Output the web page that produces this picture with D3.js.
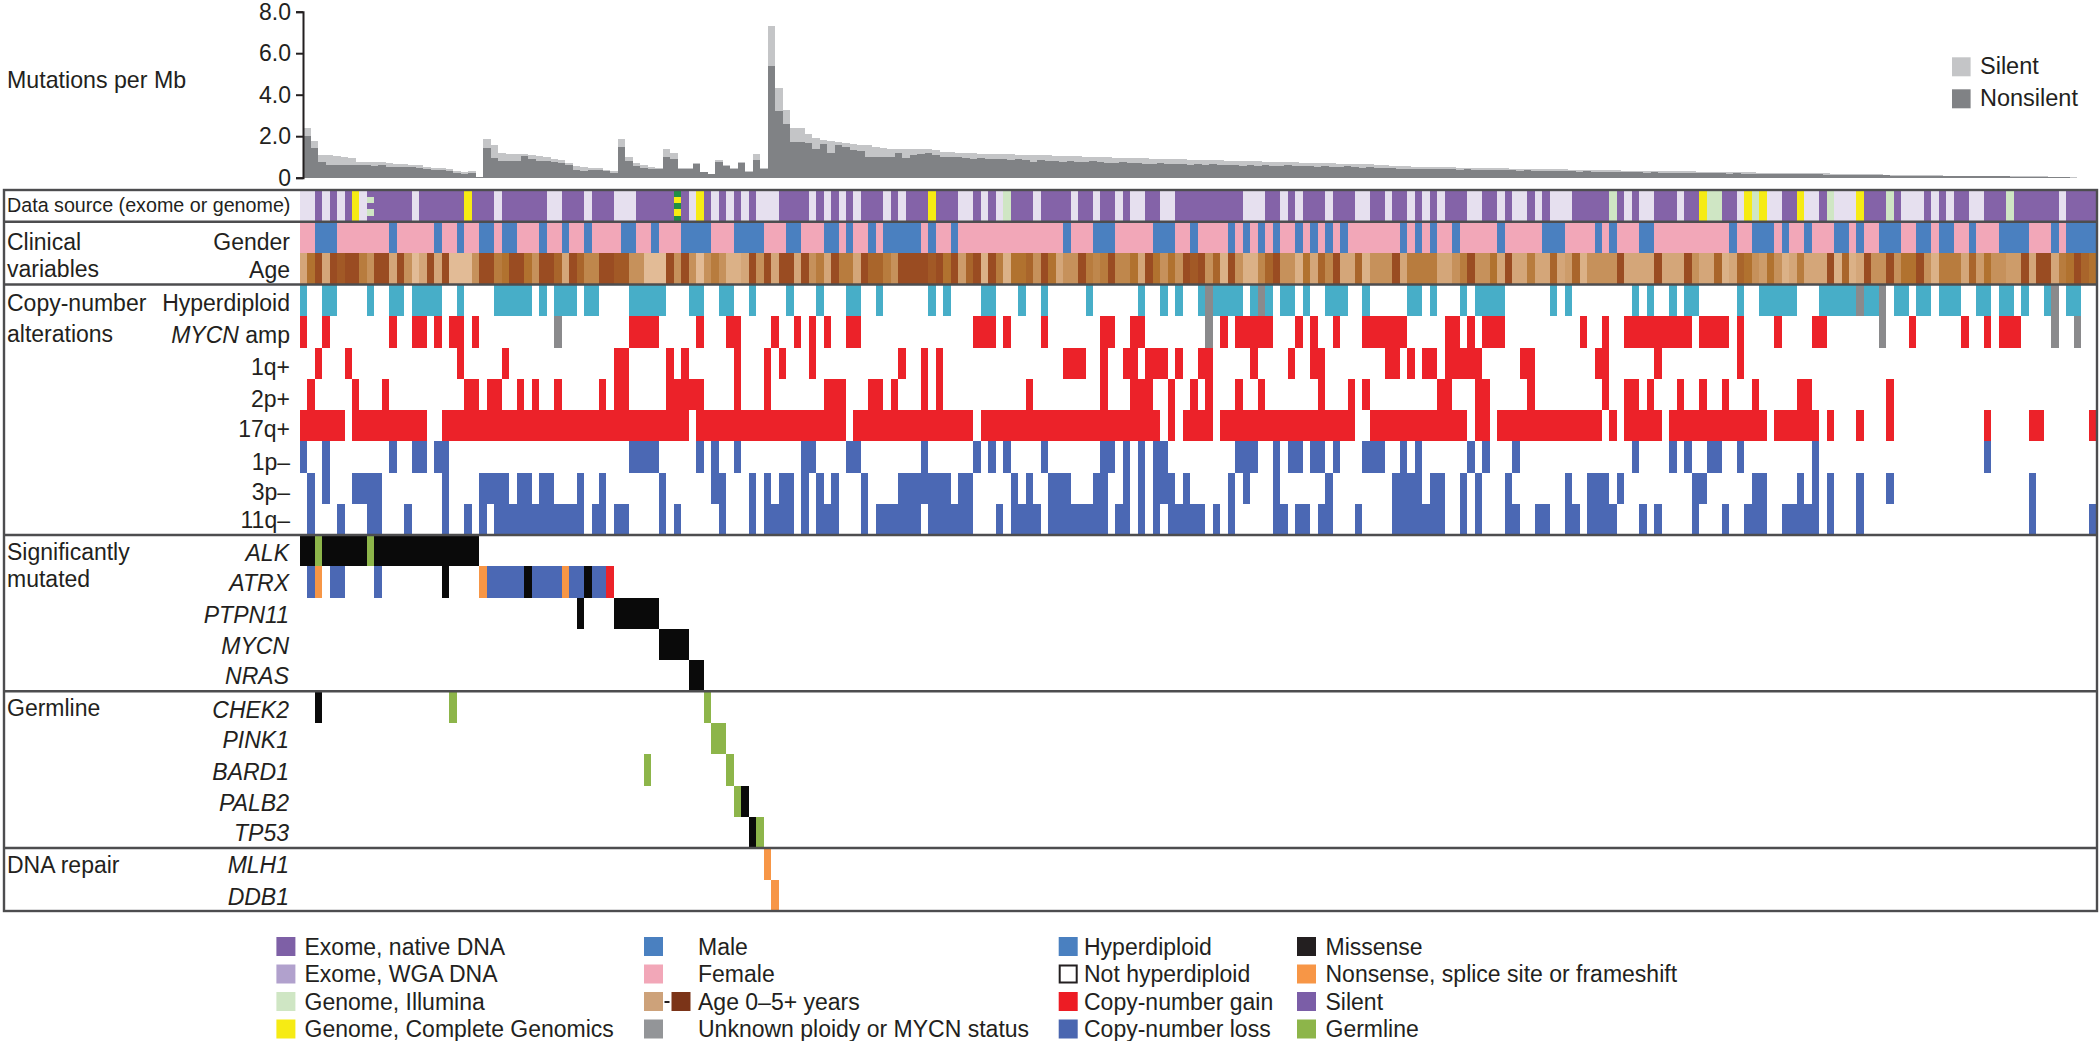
<!DOCTYPE html>
<html><head><meta charset="utf-8">
<script src="https://cdnjs.cloudflare.com/ajax/libs/d3/7.8.5/d3.min.js"></script>
<style>html,body{margin:0;padding:0;background:#fff}svg{display:block}text{font-family:"Liberation Sans",Arial,sans-serif;fill:#231f20}</style>
</head><body><svg id="c" width="2100" height="1041"></svg>
<script>
const tickValues=[0,2,4,6,8];
const totalRate=[2.4,1.78,1.09,1.07,1.05,1.0,.95,.77,.75,.75,.75,.73,.65,.65,.63,.6,.52,.48,.47,.42,.3,.27,.3,.03,
1.85,1.6,1.17,1.15,1.12,1.12,1.1,1.05,1.0,.9,.85,.7,.58,.5,.48,.45,.38,.3,
1.85,1.0,.7,.62,.5,.48,1.38,1.2,.45,.45,.7,.29,.18,.85,.6,.45,.77,.3,1.14,.45,
7.3,4.3,3.26,2.38,2.38,2.09,1.93,1.82,1.78,1.73,1.65,1.62,1.6,1.56,1.46,1.41,1.4,1.38,1.38,1.37,1.36,1.36,1.33,1.24,
1.22,1.2,1.19,1.17,1.16,1.15,1.14,1.13,1.12,1.11,1.1,1.09,1.08,1.07,
1.06,1.05,1.04,1.03,1.02,1.0,.99,.98,.97,.96,.95,.94,.93,.92,.91,.9,.89,.88,.87,.86,
.85,.84,.83,.82,.82,.81,.8,.79,.78,.77,.76,.75,.74,.73,.72,.71,.7,.69,.68,.67,.66,.65,.64,.62,.6,.58,.56,
.54,.53,.52,.52,.51,.5,.5,.49,.49,.48,.47,.47,.46,.45,.44,.44,.43,.42,.42,.41,.4,.4,.39,.38,.37,.36,
.36,.35,.35,.34,.34,.33,.33,.32,.32,.31,.31,.3,.3,.29,.29,.28,.28,.27,
.27,.26,.26,.25,.25,.24,.24,.23,.23,.22,.22,.21,.21,.2,.2,.19,.18,.17,.17,.16,.15,.14,.13,
.12,.12,.11,.11,.11,.1,.1,.1,.09,.09,.09,.08,.08,.08,.08,.07,.07,.07,.06,.05,.05,.04,.03,0,0,0];
const nonsilentRate=[2.0,1.41,.77,.61,.6,.62,.6,.62,.6,.58,.6,.52,.5,.5,.5,.46,.4,.38,.36,.33,.24,.2,.24,.02,
1.41,.93,.8,.8,.82,1.04,.88,.8,.8,.75,.72,.6,.38,.3,.35,.35,.3,.25,
1.5,.8,.55,.45,.42,.4,1.0,.88,.4,.4,.65,.27,.16,.77,.55,.4,.7,.27,.85,.42,
5.4,3.2,2.57,1.73,1.73,1.65,1.37,1.62,1.17,1.57,1.49,1.33,1.3,1.0,.98,.98,1.0,1.17,.93,1.09,1.14,1.17,1.09,1.0,
.98,1.0,.93,.9,.96,.92,.9,.88,.85,.88,.86,.78,.84,.82,
.8,.78,.8,.76,.74,.82,.76,.7,.72,.74,.71,.72,.68,.66,.7,.68,.64,.66,.63,.66,
.62,.64,.6,.62,.61,.58,.6,.57,.6,.58,.56,.6,.54,.57,.55,.52,.55,.53,.51,.54,.5,.48,.5,.47,.46,.46,.44,
.43,.42,.44,.42,.4,.42,.4,.38,.4,.38,.36,.38,.36,.38,.35,.34,.35,.33,.34,.32,.31,.32,.3,.29,.3,.28,
.28,.29,.27,.27,.26,.27,.25,.26,.24,.25,.23,.24,.24,.22,.23,.21,.22,.2,
.21,.2,.2,.19,.2,.18,.19,.17,.18,.17,.16,.17,.15,.15,.14,.14,.13,.13,.12,.11,.11,.1,.09,
.09,.09,.08,.08,.08,.07,.07,.07,.07,.06,.07,.06,.06,.06,.05,.05,.05,.04,.04,.02,.02,.01,0,0,0,0];
const agePerSample=[1,3.5,5,1,5,4.5,5,5,3,2,5,5,1,5,2,0,1,5,1,5,0,0,0,2,5,5,3,3.5,5,5,3.5,2,5,5,4,1,5,4,2.5,2.5,5,5,4.5,4.5,2,2,0,0,0,5,2,5,2,0,2,3,2,.5,.5,1,5,2,5,1,5,5,1,5,2,3,1,5,3,3,1,5,4,4,3,2,
5,5,5,5,4.5,5,3.5,5,1.5,4,5,.5,5,3,.5,3.5,3.5,4,2,5,3.5,1,2,2,5,3,2.5,3,5,2.5,2.5,3.5,1,5,3.5,2,3.5,2,5,4.5,5,2,4,.5,5,2,.5,.5,2.5,4,5,2,2,.5,3.5,1,4,2.5,5,1,1,4,.5,2,2,2,5,1,3,3,3,3,1,1,2,3,5,2,2,3.5,
1,5,1,1,3,1,1,4,1,1.5,4,.5,2,2,2,2,5,1,1,1,1,5,1,1,1,5,2,1,1,4,.5,1,4,3.5,2,1.5,3.5,2,.5,1,3,1,1,1,5,.5,4,.5,1,5,2,2,5,2,3.5,3.5,5,2,.5,3,3,3,1,4,1.5,3.5,2,2,1.5,1.5,5,1,5,5,1,3,3.5,5,4,3.5];

// sample spans [first, afterLast]
const wgaSpans=[[0,2],[3,4],[5,6],[8,9],[15,16],[26,27],[33,35],[38,39],[42,45],[52,53],[55,56],[57,58],[59,60],[61,64],[68,69],[70,71],[72,73],[74,75],[78,79],[80,81],[88,90],[91,92],[93,94],[98,99],[103,104],[106,107],[109,110],[111,113],[115,117],[126,129],[131,132],[133,134],[137,138],[141,143],[145,146],[148,149],[150,151],[152,153],[156,158],[160,161],[162,164],[165,166],[167,170],[177,178],[179,181],[184,185],[192,193],[196,198],[201,203],[205,208],[214,217],[218,219],[220,221],[223,225],[235,236]];
const illuminaSpans=[[94,95],[175,176],[188,190],[194,195],[204,205],[212,213],[228,229]];
const completeSpans=[[7,8],[22,23],[53,54],[84,85],[187,188],[193,194],[195,196],[200,201],[208,209]];
const mixedSourceSample1=["#8463a8","#cfe6c4","#8463a8","#cfe6c4","#8463a8"];
const mixedSourceSample2=["#1f8f45","#f6eb14","#1f8f45","#f6eb14","#1f8f45"];
const maleSpans=[[2,5],[12,13],[18,19],[21,22],[24,26],[27,29],[32,33],[35,36],[38,39],[43,45],[47,48],[51,55],[58,62],[65,67],[70,72],[73,74],[76,77],[78,83],[84,85],[87,88],[102,103],[106,109],[114,117],[119,120],[124,125],[126,127],[128,129],[130,131],[133,134],[135,136],[137,138],[139,140],[147,148],[149,150],[151,152],[154,155],[160,161],[166,169],[173,174],[175,176],[179,181],[191,192],[194,197],[198,199],[201,202],[205,207],[208,209],[211,214],[216,218],[219,221],[223,224],[227,231],[234,235],[236,240]];
const hyperSpans=[[0,1],[3,5],[9,10],[12,14],[15,19],[21,22],[26,31],[32,33],[34,37],[38,40],[44,49],[52,54],[56,58],[60,61],[65,66],[69,70],[73,75],[77,78],[84,85],[86,87],[91,93],[96,97],[99,100],[105,106],[112,113],[115,116],[117,118],[120,121],[122,126],[127,128],[129,130],[131,133],[134,135],[137,140],[142,143],[148,150],[151,152],[155,156],[157,161],[167,168],[169,170],[178,179],[180,181],[183,184],[185,187],[192,193],[195,200],[203,208],[209,211],[213,215],[216,218],[219,222],[224,226],[227,229],[230,231],[233,234],[236,238]];
const ploidyUnknownSpans=[[121,122],[128,129],[208,209],[211,212],[234,235]];
const mycnAmpSpans=[[0,1],[3,4],[12,13],[15,17],[18,19],[20,22],[23,24],[44,48],[53,54],[57,59],[63,64],[66,67],[68,69],[70,71],[73,75],[90,93],[94,95],[99,100],[107,109],[111,113],[123,124],[125,130],[133,134],[135,136],[138,139],[142,148],[153,155],[156,157],[158,161],[171,172],[174,175],[177,186],[187,191],[192,193],[197,198],[202,204],[215,216],[222,223],[225,226],[227,230]];
const mycnUnknownSpans=[[34,35],[121,122],[211,212],[234,235],[237,238]];
const gain1qSpans=[[2,3],[6,7],[21,22],[27,28],[42,44],[49,50],[51,52],[58,59],[62,63],[64,65],[68,69],[80,81],[83,84],[85,86],[102,105],[107,108],[110,112],[113,116],[117,118],[120,122],[127,128],[132,133],[135,137],[145,147],[148,149],[150,152],[153,158],[163,165],[173,175],[181,182],[192,193]];
const gain2pSpans=[[1,2],[7,8],[11,12],[22,24],[25,27],[29,30],[31,32],[34,35],[40,41],[42,44],[49,54],[58,59],[62,63],[70,73],[76,78],[79,80],[83,84],[85,86],[97,98],[107,108],[111,114],[116,117],[119,120],[121,122],[125,126],[128,129],[136,137],[140,141],[142,143],[152,154],[157,159],[164,165],[174,175],[177,179],[180,181],[184,185],[187,188],[190,191],[194,195],[200,202],[212,213]];
const gain17qSpans=[[0,6],[7,17],[19,52],[53,73],[74,90],[91,115],[116,117],[118,122],[123,141],[143,156],[157,159],[160,174],[175,176],[177,182],[183,196],[197,203],[204,205],[208,209],[212,213],[225,226],[231,233],[239,240]];
const loss1pSpans=[[0,1],[3,4],[12,13],[15,17],[18,20],[44,48],[53,54],[55,56],[58,59],[67,69],[73,75],[83,84],[90,91],[92,93],[94,95],[99,100],[107,109],[110,111],[112,113],[114,116],[125,128],[130,131],[132,134],[135,137],[138,139],[142,145],[147,148],[149,150],[156,157],[158,159],[162,163],[178,179],[183,184],[185,186],[188,190],[192,193],[202,203],[225,226]];
const loss3pSpans=[[1,2],[3,4],[7,11],[19,20],[24,28],[29,31],[32,34],[37,38],[40,41],[48,49],[55,57],[60,61],[62,63],[64,66],[67,68],[69,70],[71,72],[75,76],[80,87],[88,90],[95,96],[97,98],[100,103],[106,108],[110,111],[112,113],[114,117],[118,119],[124,125],[126,127],[130,131],[137,138],[146,150],[151,153],[155,156],[157,158],[161,162],[169,170],[172,175],[176,177],[186,188],[194,196],[200,201],[202,203],[204,205],[208,209],[212,213],[231,232]];
const loss11qSpans=[[1,2],[5,6],[9,11],[14,15],[19,20],[22,23],[24,25],[26,38],[39,41],[42,44],[48,49],[50,51],[56,57],[60,61],[62,66],[67,68],[69,72],[75,76],[77,83],[84,90],[93,94],[95,99],[100,108],[109,111],[112,113],[114,115],[116,121],[122,123],[124,125],[130,132],[133,135],[136,138],[141,142],[146,153],[155,156],[157,158],[161,163],[165,167],[169,171],[172,176],[179,180],[181,182],[186,187],[190,191],[193,196],[198,203],[204,205],[208,209],[231,232],[239,240]];
const geneMissense={ALK:[[0,2],[3,9],[10,24]],ATRX:[[19,20],[30,31],[38,39]],PTPN11:[[37,38],[42,48]],MYCN:[[48,52]],NRAS:[[52,54]],CHEK2:[[2,3]],PINK1:[],BARD1:[],PALB2:[[59,60]],TP53:[[60,61]],MLH1:[],DDB1:[]};
const geneGermline={ALK:[[2,3],[9,10]],ATRX:[],PTPN11:[],MYCN:[],NRAS:[],CHEK2:[[20,21],[54,55]],PINK1:[[55,57]],BARD1:[[46,47],[57,58]],PALB2:[[58,59]],TP53:[[61,62]],MLH1:[],DDB1:[]};
const geneNonsense={ATRX:[[2,3],[24,25],[35,36]],MLH1:[[62,63]],DDB1:[[63,64]]};
const geneSilent={ATRX:[[1,2],[4,6],[10,11],[25,30],[31,35],[36,38],[39,41]]};
const geneRed={ATRX:[[41,42]]};
const clinicalGenes=["ALK","ATRX","PTPN11","MYCN","NRAS","CHEK2","PINK1","BARD1","PALB2","TP53","MLH1","DDB1"];
const legendCol1=[["Exome, native DNA","#7e60a6"],["Exome, WGA DNA","#b1a1cd"],["Genome, Illumina","#cfe6c4"],["Genome, Complete Genomics","#f6eb14"]];
const legendCol2=[["Male","#4a80c0"],["Female","#f2a7b8"],["Age 0–5+ years","#cda27a"],["Unknown ploidy or MYCN status","#939598"]];
const legendCol3=[["Hyperdiploid","#4a80c0"],["Not hyperdiploid","#fff"],["Copy-number gain","#ed1c24"],["Copy-number loss","#4a66b0"]];
const legendCol4=[["Missense","#231f20"],["Nonsense, splice site or frameshift","#f79646"],["Silent","#7b5ea7"],["Germline","#8db54a"]];

const svg=d3.select("#c");
const N=240;
const x=d3.scaleLinear().domain([0,N]).range([299.6,2096]);
const xBar=d3.scaleLinear().domain([0,N]).range([303.5,2099.9]);
const y=d3.scaleLinear().domain([0,8]).range([177.7,11.7]);
const ageColor=d3.scaleLinear().domain([0,3.5,5]).range(["#e2bb96","#b1722f","#9a4c22"]);
const C={native:"#8463a8",wga:"#e6e0ef",ill:"#cfe6c4",comp:"#f6eb14",male:"#4a80c0",female:"#f2a7b8",hyper:"#47aec8",gain:"#ec2229",loss:"#4b68b4",unk:"#8a8a8c",mis:"#0a0a0a",non:"#f79646",ger:"#8db54a"};
const marks=svg.append("g").attr("shape-rendering","crispEdges");
function spans(data,top,bot,color){marks.append("g").attr("fill",color).selectAll("rect").data(data).join("rect")
 .attr("x",d=>x(d[0])).attr("width",d=>x(d[1])-x(d[0])).attr("y",top).attr("height",bot-top);}

// bars
const bars=svg.append("g").attr("shape-rendering","crispEdges");
bars.append("g").attr("fill","#c4c5c7").selectAll("rect").data(totalRate).join("rect")
 .attr("x",(d,i)=>xBar(i)).attr("width",xBar(1)-xBar(0)).attr("y",d=>y(d)).attr("height",d=>y(0)-y(d));
bars.append("g").attr("fill","#808285").selectAll("rect").data(nonsilentRate).join("rect")
 .attr("x",(d,i)=>xBar(i)).attr("width",xBar(1)-xBar(0)).attr("y",d=>y(d)).attr("height",d=>y(0)-y(d));
const ax=svg.append("g").attr("transform","translate(303,0)").call(d3.axisLeft(y).tickValues(tickValues).tickSize(7).tickPadding(5).tickFormat(d=>d===0?"0":d3.format(".1f")(d)));
ax.selectAll("path,line").attr("stroke","#231f20").attr("stroke-width",2);
ax.selectAll("text").style("font-size","23px").style("font-family","'Liberation Sans'");

// data source
const r=[190.7,221.7,222.7,253.3,284];
spans([[0,N]],r[0],r[1],C.native);spans(wgaSpans,r[0],r[1],C.wga);spans(illuminaSpans,r[0],r[1],C.ill);spans(completeSpans,r[0],r[1],C.comp);
[[9,mixedSourceSample1],[50,mixedSourceSample2]].forEach(([c,cols])=>cols.forEach((col,k)=>{const h=(r[1]-r[0])/5;spans([[c,c+1]],r[0]+k*h,r[0]+(k+1)*h,col);}));
spans([[0,N]],r[2],r[3],C.female);spans(maleSpans,r[2],r[3],C.male);
marks.append("g").selectAll("rect").data(agePerSample).join("rect").attr("x",(d,i)=>x(i)).attr("width",x(1)-x(0)+.3).attr("y",r[3]).attr("height",r[4]-r[3]).attr("fill",d=>ageColor(d));

// copy number rows
const rowTop=i=>285+31.25*i;
spans(hyperSpans,rowTop(0),rowTop(1),C.hyper);spans(ploidyUnknownSpans,rowTop(0),rowTop(1),C.unk);
spans(mycnAmpSpans,rowTop(1),rowTop(2),C.gain);spans(mycnUnknownSpans,rowTop(1),rowTop(2),C.unk);
spans(gain1qSpans,rowTop(2),rowTop(3),C.gain);spans(gain2pSpans,rowTop(3),rowTop(4),C.gain);spans(gain17qSpans,rowTop(4),rowTop(5),C.gain);
spans(loss1pSpans,rowTop(5),rowTop(6),C.loss);spans(loss3pSpans,rowTop(6),rowTop(7),C.loss);spans(loss11qSpans,rowTop(7),rowTop(8),C.loss);

// genes
const geneTop=i=>535+(911-535)/12*i;
clinicalGenes.forEach((g,i)=>{const t=geneTop(i),b=geneTop(i+1);
 spans(geneSilent[g]||[],t,b,C.loss);spans(geneMissense[g]||[],t,b,C.mis);spans(geneGermline[g]||[],t,b,C.ger);spans(geneNonsense[g]||[],t,b,C.non);spans(geneRed[g]||[],t,b,C.gain);});

// frame
const frame=svg.append("g").attr("stroke","#4d4d4f").attr("stroke-width",2.4).attr("fill","none");
frame.append("rect").attr("x",4).attr("y",190).attr("width",2093).attr("height",721);
[221.7,284.5,535,691.3,848].forEach(v=>frame.append("line").attr("x1",4).attr("x2",2097).attr("y1",v).attr("y2",v));

// texts
function T(s,px,py,opt={}){const t=svg.append("text").attr("x",px).attr("y",py).attr("text-anchor",opt.end?"end":"start").style("font-size",(opt.size||23)+"px");
 if(opt.it)t.style("font-style","italic");if(opt.tspan){t.append("tspan").style("font-style","italic").text(opt.tspan);t.append("tspan").text(s);}else t.text(s);return t;}
const lx=7,rx=290;
T("Mutations per Mb",lx,88,{size:23.2});
T("Data source (exome or genome)",lx,212,{size:19.7});
T("Clinical",lx,250);T("variables",lx,277);T("Gender",rx,250,{end:1});T("Age",rx,278,{end:1});
T("Copy-number",lx,311);T("alterations",lx,342);
T("Hyperdiploid",rx,311,{end:1});T(" amp",rx,343,{end:1,tspan:"MYCN"});
[["1q+",375],["2p+",407],["17q+",437],["1p–",470],["3p–",500],["11q–",528]].forEach(d=>T(d[0],rx,d[1],{end:1}));
T("Significantly",lx,560);T("mutated",lx,587);T("Germline",lx,716);T("DNA repair",lx,873);
[553,583,615,646,676,710,740,771.7,802.7,832.7,865,896.7].forEach((v,i)=>T(clinicalGenes[i],289,v+8,{end:1,it:1}));

// top legend
[["Silent","#c4c5c7",57.3],["Nonsilent","#808285",89.3]].forEach(d=>{svg.append("rect").attr("x",1952).attr("y",d[2]).attr("width",18.6).attr("height",19).attr("fill",d[1]);T(d[0],1980,d[2]+17,{size:23.5});});

// bottom legend
const legY=[937,964.5,992,1019.5];
function legend(list,sx,tx){list.forEach((d,i)=>{const s=svg.append("rect").attr("x",sx).attr("y",legY[i]).attr("width",19).attr("height",19).attr("fill",d[1]);
 if(d[0]==="Not hyperdiploid")s.attr("stroke","#231f20").attr("stroke-width",2).attr("x",sx+1).attr("y",legY[i]+1).attr("width",17).attr("height",17);
 T(d[0],tx,legY[i]+17.5);});}
legend(legendCol1,276.4,304.5);legend(legendCol2,644,698);legend(legendCol3,1058.7,1084);legend(legendCol4,1297,1325.5);
svg.append("rect").attr("x",671.5).attr("y",legY[2]).attr("width",19).attr("height",19).attr("fill","#7b3418");
svg.append("rect").attr("x",664.5).attr("y",legY[2]+9).attr("width",5).attr("height",2).attr("fill","#231f20");
</script></body></html>
